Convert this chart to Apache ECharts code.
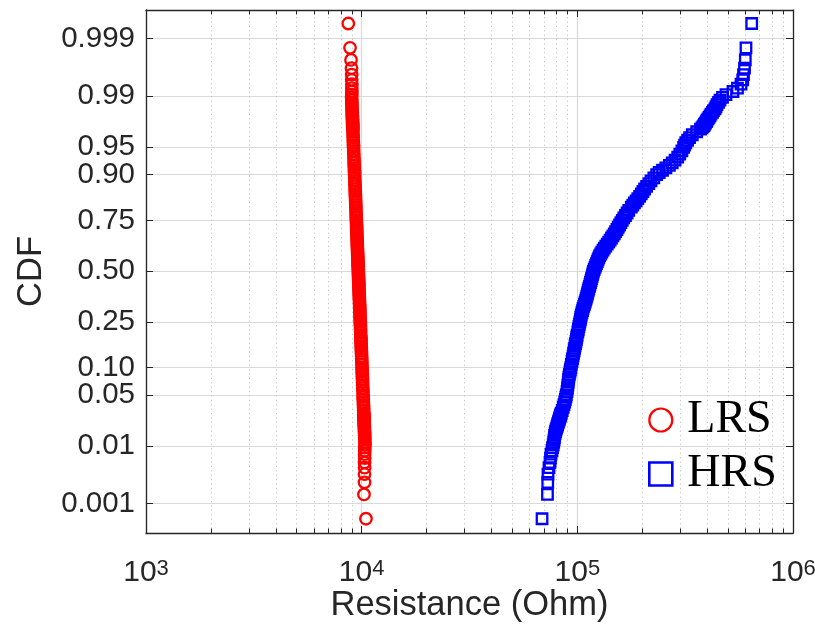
<!DOCTYPE html>
<html>
<head>
<meta charset="utf-8">
<title>CDF - Resistance</title>
<script src="https://cdn.jsdelivr.net/npm/echarts@6/dist/echarts.min.js"></script>
<style>
  html, body { margin: 0; padding: 0; background: #fff; }
  #chart { width: 815px; height: 634px; }
</style>
</head>
<body>
<div id="chart"></div>
<script>
// 累积概率（两组样本共用同一组概率位置）
const cdf = [
  0.0005, 0.0015, 0.0025, 0.0035, 0.0045, 0.0055, 0.0065, 0.0075, 0.0085, 0.0095,
  0.0105, 0.0115, 0.0125, 0.0135, 0.0145, 0.0155, 0.0165, 0.0175, 0.0185, 0.0195,
  0.0205, 0.0215, 0.0225, 0.0235, 0.0245, 0.0255, 0.0265, 0.0275, 0.0285, 0.0295,
  0.032, 0.035, 0.038, 0.041, 0.044, 0.047, 0.050,
  0.055, 0.060, 0.065, 0.070, 0.075, 0.080, 0.085, 0.090, 0.095, 0.100,
  0.1075, 0.115, 0.1225, 0.130, 0.1375, 0.145, 0.1525, 0.160, 0.1675, 0.175, 0.1825, 0.190, 0.1975,
  0.21, 0.22, 0.23, 0.24, 0.25, 0.26, 0.27, 0.28, 0.29, 0.30,
  0.31, 0.32, 0.33, 0.34, 0.35, 0.36, 0.37, 0.38, 0.39, 0.40,
  0.41, 0.42, 0.43, 0.44, 0.45, 0.46, 0.47, 0.48, 0.49, 0.50,
  0.51, 0.52, 0.53, 0.54, 0.55, 0.56, 0.57, 0.58, 0.59, 0.60,
  0.61, 0.62, 0.63, 0.64, 0.65, 0.66, 0.67, 0.68, 0.69, 0.70,
  0.71, 0.72, 0.73, 0.74, 0.75, 0.76, 0.77, 0.78, 0.79,
  0.8025, 0.81, 0.8175, 0.825, 0.8325, 0.84, 0.8475, 0.855, 0.8625, 0.87, 0.8775, 0.885, 0.8925,
  0.900, 0.905, 0.910, 0.915, 0.920, 0.925, 0.930, 0.935, 0.940, 0.945,
  0.950, 0.953, 0.956, 0.959, 0.962, 0.965, 0.968,
  0.9705, 0.9715, 0.9725, 0.9735, 0.9745, 0.9755, 0.9765, 0.9775, 0.9785, 0.9795,
  0.9805, 0.9815, 0.9825, 0.9835, 0.9845, 0.9855, 0.9865, 0.9875, 0.9885, 0.9895,
  0.9905, 0.9915, 0.9925, 0.9935, 0.9945, 0.9955, 0.9965, 0.9975, 0.9985, 0.9995
];

// 低阻态 LRS 电阻 (Ohm)
const lrsOhm = [
  10470, 10250, 10310, 10310, 10320, 10310, 10330, 10320, 10340, 10330,
  10367, 10355, 10345, 10335, 10327, 10318, 10310, 10302, 10296, 10288,
  10282, 10275, 10269, 10264, 10257, 10252, 10248, 10242, 10237, 10233,
  10221, 10208, 10196, 10185, 10175, 10165, 10156,
  10141, 10127, 10114, 10102, 10091, 10080, 10069, 10060, 10051, 10041,
  10029, 10016, 10005, 9993, 9983, 9972, 9962, 9952, 9943, 9934, 9925, 9917, 9908,
  9894, 9884, 9874, 9863, 9854, 9844, 9835, 9826, 9817, 9808,
  9799, 9791, 9783, 9774, 9766, 9758, 9750, 9742, 9734, 9726,
  9718, 9711, 9703, 9695, 9688, 9680, 9672, 9665, 9657, 9650,
  9643, 9635, 9628, 9620, 9612, 9605, 9598, 9590, 9582, 9575,
  9567, 9559, 9551, 9543, 9536, 9528, 9519, 9511, 9503, 9494,
  9486, 9478, 9469, 9460, 9451, 9443, 9432, 9422, 9412,
  9400, 9391, 9383, 9375, 9366, 9358, 9348, 9339, 9330, 9320, 9309, 9298, 9287,
  9275, 9266, 9258, 9249, 9240, 9229, 9220, 9209, 9197, 9185,
  9172, 9163, 9154, 9145, 9135, 9124, 9113,
  9103, 9099, 9094, 9090, 9085, 9081, 9076, 9071, 9065, 9060,
  9054, 9048, 9042, 9036, 9028, 9021, 9013, 9005, 8996, 8987,
  9000, 9010, 9000, 9010, 8990, 8990, 8970, 8925, 8830, 8670
];

// 高阻态 HRS 电阻 (Ohm)
const hrsOhm = [
  68600, 72700, 72900, 73100, 73900, 74700, 75100, 75500, 76300, 76700,
  77300, 77700, 78000, 78300, 78500, 78900, 79200, 79600, 80100, 80600,
  81000, 81300, 81700, 82100, 82500, 82800, 83200, 83500, 83900, 84200,
  85100, 86000, 86700, 87400, 88000, 88500, 88900,
  89600, 90000, 90400, 90800, 91100, 91400, 91900, 92400, 92800, 93300,
  93800, 94500, 95000, 95600, 96100, 96600, 97100, 97600, 98100, 98600, 99000, 99400, 99800,
  100600, 101100, 101700, 102200, 102800, 103300, 103700, 104300, 105000, 105700,
  106300, 107100, 107900, 108700, 109400, 110000, 110700, 111300, 111900, 112500,
  113100, 113900, 114500, 115100, 115700, 116300, 117000, 117600, 118200, 118800,
  119800, 120800, 121700, 122700, 123700, 124700, 125700, 126800, 128400, 129900,
  131600, 133400, 135500, 137600, 139800, 141900, 144000, 146200, 148400, 150500,
  152600, 154700, 157000, 159200, 161600, 164200, 167200, 170100, 173200,
  177900, 180800, 183900, 187300, 190700, 194400, 198000, 201400, 205100, 209500, 214500, 219600, 226300,
  233300, 239700, 248300, 257400, 267200, 275300, 284000, 292100, 298600, 305400,
  311000, 314300, 318300, 324500, 331500, 341200, 357600,
  372500, 378400, 382500, 386600, 388600, 392800, 397100, 399100, 403600, 407800,
  412200, 416600, 423300, 427800, 434800, 439500, 444200, 451400, 458600, 471100,
  489000, 526900, 552900, 574100, 584500, 589500, 595900, 601000, 605300, 643400
];

// 纵轴刻度（正态概率坐标）
const cdfTicks = [0.001, 0.01, 0.05, 0.10, 0.25, 0.50, 0.75, 0.90, 0.95, 0.99, 0.999];
const cdfTickLabels = ['0.001', '0.01', '0.05', '0.10', '0.25', '0.50', '0.75', '0.90', '0.95', '0.99', '0.999'];

const sansFont = "'Liberation Sans', Arial, Helvetica, sans-serif";
const serifFont = "'Liberation Serif', 'Times New Roman', serif";
const axisColor = '#262626';

// 标准正态分布逆函数 (Acklam)，把概率映射到正态坐标
function probit(p) {
  const a = [-3.969683028665376e+01, 2.209460984245205e+02, -2.759285104469687e+02, 1.383577518672690e+02, -3.066479806614716e+01, 2.506628277459239e+00];
  const b = [-5.447609879822406e+01, 1.615858368580409e+02, -1.556989798598866e+02, 6.680131188771972e+01, -1.328068155288572e+01];
  const c = [-7.784894002430293e-03, -3.223964580411365e-01, -2.400758277161838e+00, -2.549732539343734e+00, 4.374664141464968e+00, 2.938163982698783e+00];
  const d = [7.784695709041462e-03, 3.224671290700398e-01, 2.445134137142996e+00, 3.754408661907416e+00];
  const plow = 0.02425;
  let q, r;
  if (p < plow) {
    q = Math.sqrt(-2 * Math.log(p));
    return (((((c[0] * q + c[1]) * q + c[2]) * q + c[3]) * q + c[4]) * q + c[5]) /
      ((((d[0] * q + d[1]) * q + d[2]) * q + d[3]) * q + 1);
  }
  if (p > 1 - plow) {
    q = Math.sqrt(-2 * Math.log(1 - p));
    return -(((((c[0] * q + c[1]) * q + c[2]) * q + c[3]) * q + c[4]) * q + c[5]) /
      ((((d[0] * q + d[1]) * q + d[2]) * q + d[3]) * q + 1);
  }
  q = p - 0.5;
  r = q * q;
  return (((((a[0] * r + a[1]) * r + a[2]) * r + a[3]) * r + a[4]) * r + a[5]) * q /
    (((((b[0] * r + b[1]) * r + b[2]) * r + b[3]) * r + b[4]) * r + 1);
}

const yMin = -3.48;
const yMax = 3.47;
const tickZ = cdfTicks.map(probit);

// 对数轴次网格 2..9 x 10^n
const minorX = [];
[3, 4, 5].forEach(e => {
  for (let m = 2; m <= 9; m++) minorX.push(m * Math.pow(10, e));
});
const tickLen = 0.06; // 次刻度长度（纵轴单位）

const frameLine = { show: true, onZero: false, lineStyle: { color: axisColor, width: 1.3 } };

const chart = echarts.init(document.getElementById('chart'));

chart.setOption({
  animation: false,
  backgroundColor: '#fff',
  grid: { left: 146, right: 22, top: 10, bottom: 101, containLabel: false, outerBoundsMode: 'none' },
  legend: {
    orient: 'vertical',
    left: 648,
    top: 397,
    padding: 0,
    itemWidth: 23,
    itemHeight: 23,
    itemGap: 8,
    selectedMode: false,
    formatter: name => '{t|' + name + '}',
    textStyle: {
      color: '#000',
      fontFamily: serifFont,
      fontSize: 45,
      rich: { t: { fontFamily: serifFont, fontSize: 46, lineHeight: 45, color: '#000', padding: [0, 0, 0, 10] } }
    },
    data: [
      { name: 'LRS', icon: 'circle', itemStyle: { color: 'rgba(0,0,0,0)', borderColor: '#ff0000', borderWidth: 2.2 } },
      { name: 'HRS', icon: 'rect', itemStyle: { color: 'rgba(0,0,0,0)', borderColor: '#0000ff', borderWidth: 2.6 } }
    ]
  },
  xAxis: [{
    type: 'log',
    logBase: 10,
    min: 1e3,
    max: 1e6,
    name: 'Resistance (Ohm)',
    nameLocation: 'middle',
    nameGap: 55,
    nameMoveOverlap: false,
    nameTextStyle: { fontFamily: sansFont, fontSize: 34.5, color: axisColor },
    axisLine: frameLine,
    axisTick: { show: true, inside: true, length: 7, lineStyle: { color: axisColor } },
    axisLabel: {
      margin: 25,
      formatter: v => '{b|10}{e|' + Math.round(Math.log10(v)) + '}',
      rich: {
        b: { fontFamily: sansFont, fontSize: 30, color: axisColor, lineHeight: 30, padding: [11, 0, 0, 0], verticalAlign: 'bottom' },
        e: { fontFamily: sansFont, fontSize: 22, color: axisColor, lineHeight: 22, verticalAlign: 'top' }
      }
    },
    splitLine: { show: true, lineStyle: { color: '#d9d9d9', width: 1.2 } }
  }, {
    type: 'log',
    logBase: 10,
    min: 1e3,
    max: 1e6,
    position: 'top',
    axisLine: frameLine,
    axisTick: { show: true, inside: true, length: 7, lineStyle: { color: axisColor } },
    axisLabel: { show: false },
    splitLine: { show: false }
  }],
  yAxis: [{
    type: 'value',
    min: yMin,
    max: yMax,
    name: 'CDF',
    nameLocation: 'middle',
    nameGap: 97,
    nameMoveOverlap: false,
    nameTextStyle: { fontFamily: sansFont, fontSize: 34.5, color: axisColor },
    axisLine: frameLine,
    axisTick: { show: true, inside: true, length: 7, customValues: tickZ, lineStyle: { color: axisColor } },
    axisLabel: {
      customValues: tickZ,
      margin: 11,
      fontFamily: sansFont,
      fontSize: 29.5,
      color: axisColor,
      formatter: v => {
        const i = tickZ.findIndex(z => Math.abs(z - v) < 1e-4);
        return i >= 0 ? cdfTickLabels[i] : '';
      }
    },
    splitLine: { show: true, lineStyle: { color: '#d9d9d9', width: 1.2 } }
  }, {
    type: 'value',
    min: yMin,
    max: yMax,
    position: 'right',
    axisLine: frameLine,
    axisTick: { show: true, inside: true, length: 7, customValues: tickZ, lineStyle: { color: axisColor } },
    axisLabel: { show: false },
    splitLine: { show: false }
  }],
  series: [{
    name: 'LRS',
    type: 'scatter',
    symbol: 'circle',
    symbolSize: 11.5,
    data: lrsOhm.map((r, i) => [r, probit(cdf[i])]),
    itemStyle: { color: 'rgba(0,0,0,0)', borderColor: '#ff0000', borderWidth: 2.3, opacity: 1 },
    emphasis: { disabled: true },
    markLine: {
      silent: true,
      symbol: 'none',
      z: 1,
      label: { show: false },
      lineStyle: { color: '#c4c4c4', type: [1.2, 3.2], width: 1 },
      data: minorX.map(v => ({ xAxis: v }))
    }
  }, {
    name: 'HRS',
    type: 'scatter',
    symbol: 'rect',
    symbolSize: 10.5,
    data: hrsOhm.map((r, i) => [r, probit(cdf[i])]),
    itemStyle: { color: 'rgba(0,0,0,0)', borderColor: '#0000ff', borderWidth: 2.3, opacity: 1 },
    emphasis: { disabled: true },
    markLine: {
      silent: true,
      symbol: 'none',
      z: 1,
      label: { show: false },
      lineStyle: { color: axisColor, type: 'solid', width: 1 },
      data: minorX.map(v => [{ coord: [v, yMin] }, { coord: [v, yMin + tickLen] }])
        .concat(minorX.map(v => [{ coord: [v, yMax] }, { coord: [v, yMax - tickLen] }]))
    }
  }]
});
</script>
</body>
</html>
